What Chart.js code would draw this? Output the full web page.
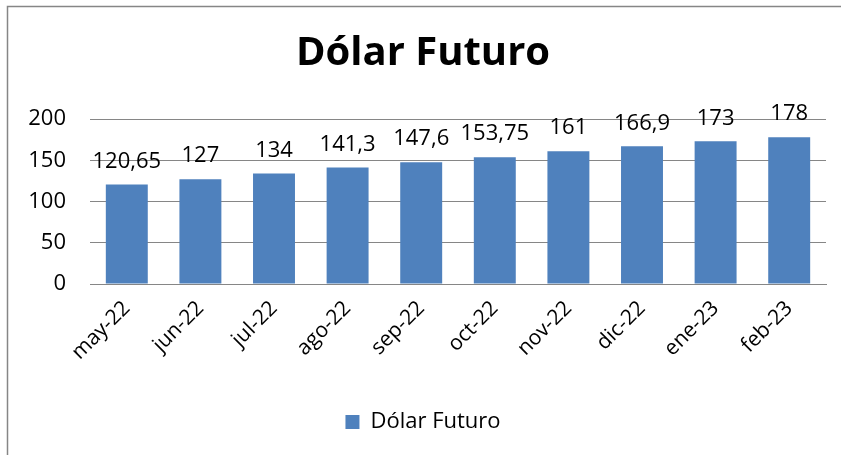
<!DOCTYPE html>
<html>
<head>
<meta charset="utf-8">
<script src="https://cdn.jsdelivr.net/npm/chart.js@4"></script>
<style>
  html, body { margin: 0; padding: 0; background: #fff; overflow: hidden; }
  #wrap { width: 841px; height: 455px; position: relative; }
</style>
</head>
<body>
<div id="wrap"><canvas id="barCanvas" width="841" height="455"></canvas></div>
<script>
// dữ liệu
const categories = ["may-22", "jun-22", "jul-22", "ago-22", "sep-22", "oct-22", "nov-22", "dic-22", "ene-23", "feb-23"];
const values = [120.65, 127, 134, 141.3, 147.6, 153.75, 161, 166.9, 173, 178];
const yTicks = [0, 50, 100, 150, 200];

const FONT = "'Open Sans', 'Noto Sans', sans-serif";

// khung viền xám bên trái + trên
const framePlugin = {
  id: "frame",
  beforeDraw(chart) {
    const c = chart.ctx;
    c.save();
    c.fillStyle = "#fff";
    c.fillRect(0, 0, chart.width, chart.height);
    c.strokeStyle = "#868686";
    c.lineWidth = 1.5;
    c.beginPath();
    c.moveTo(7.5, chart.height);
    c.lineTo(7.5, 6.5);
    c.lineTo(chart.width, 6.5);
    c.stroke();
    c.restore();
  }
};

// nhãn giá trị trên cột
const labelPlugin = {
  id: "valueLabels",
  afterDatasetsDraw(chart) {
    const c = chart.ctx;
    const meta = chart.getDatasetMeta(0);
    c.save();
    c.font = "22px " + FONT;
    c.fillStyle = "#000";
    c.textAlign = "center";
    c.textBaseline = "bottom";
    meta.data.forEach((bar, i) => {
      const txt = values[i].toString().replace(".", ",");
      c.fillText(txt, bar.x, bar.y - 12);
    });
    c.restore();
  }
};

const ctx = document.getElementById("barCanvas").getContext("2d");
new Chart(ctx, {
  type: "bar",
  data: {
    labels: categories,
    datasets: [{
      label: "Dólar Futuro",
      data: values,
      backgroundColor: "#4F81BD",
      borderWidth: 0,
      barPercentage: 0.57,
      categoryPercentage: 1
    }]
  },
  options: {
    responsive: false,
    animation: false,
    layout: { padding: { left: 20, right: 15, top: 0, bottom: 12 } },
    plugins: {
      title: {
        display: true,
        text: "Dólar Futuro",
        color: "#000",
        font: { family: FONT, size: 40, weight: "bold" },
        padding: { top: 30, bottom: 41 }
      },
      legend: {
        position: "bottom",
        labels: {
          color: "#000",
          font: { family: FONT, size: 22 },
          boxWidth: 14,
          boxHeight: 14,
          padding: 8
        }
      },
      tooltip: { enabled: false }
    },
    scales: {
      x: {
        grid: { display: false },
        border: { color: "#868686" },
        ticks: {
          color: "#000",
          font: { family: FONT, size: 21 },
          minRotation: 45,
          maxRotation: 45,
          padding: 4
        },
        afterFit(scale) { scale.height = 119; }
      },
      y: {
        min: 0,
        max: 200,
        afterBuildTicks(scale) { scale.ticks = yTicks.map(v => ({ value: v })); },
        grid: { color: "#868686", drawTicks: false },
        border: { display: false },
        ticks: {
          color: "#000",
          font: { family: FONT, size: 22 },
          padding: 24
        },
        afterFit(scale) { scale.width = 70; }
      }
    }
  },
  plugins: [framePlugin, labelPlugin]
});
</script>
</body>
</html>
